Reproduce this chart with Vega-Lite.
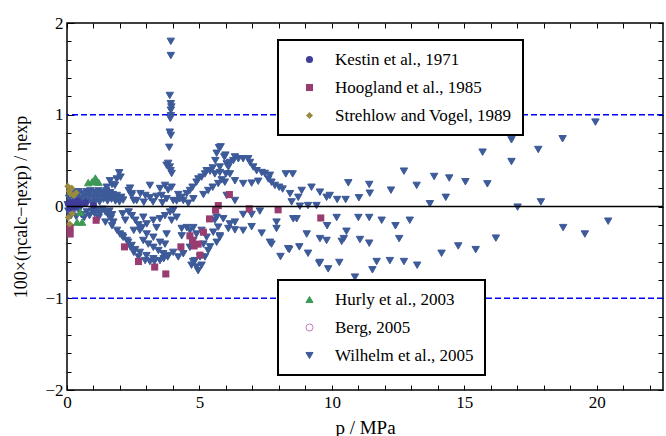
{
  "$schema": "https://vega.github.io/schema/vega-lite/v6.json",
  "width": 596,
  "height": 367,
  "autosize": {"type": "none"},
  "padding": {"left": 67, "top": 23, "right": 3, "bottom": 46},
  "config": {
    "view": {"stroke": "black", "strokeWidth": 1.5},
    "font": "Liberation Serif",
    "axis": {"domain": false, "grid": false, "tickColor": "black", "labelColor": "black", "titleColor": "black", "labelFont": "Liberation Serif", "titleFont": "Liberation Serif", "titleFontWeight": "normal", "labelFontSize": 17, "titleFontSize": 18, "labelFlush": false, "labelOverlap": false, "tickWidth": 1, "tickSize": 5, "offset": -5}
  },
  "datasets": {
    "levels": [{"level": 1}, {"level": -1}],
    "zero": [{"level": 0}],
    "g1": [
      {"series": "Kestin et al., 1971", "p": 0.05, "dev": 0.03},
      {"series": "Kestin et al., 1971", "p": 0.1, "dev": -0.02},
      {"series": "Kestin et al., 1971", "p": 0.2, "dev": 0.05},
      {"series": "Kestin et al., 1971", "p": 0.3, "dev": 0.0},
      {"series": "Kestin et al., 1971", "p": 0.4, "dev": 0.06},
      {"series": "Kestin et al., 1971", "p": 0.5, "dev": 0.02},
      {"series": "Kestin et al., 1971", "p": 0.7, "dev": 0.04},
      {"series": "Kestin et al., 1971", "p": 1.0, "dev": 0.01},
      {"series": "Hoogland et al., 1985", "p": 0.12, "dev": -0.23},
      {"series": "Hoogland et al., 1985", "p": 0.12, "dev": -0.3},
      {"series": "Hoogland et al., 1985", "p": 1.1, "dev": -0.15},
      {"series": "Hoogland et al., 1985", "p": 2.17, "dev": -0.44},
      {"series": "Hoogland et al., 1985", "p": 2.7, "dev": -0.6},
      {"series": "Hoogland et al., 1985", "p": 3.31, "dev": -0.66},
      {"series": "Hoogland et al., 1985", "p": 3.73, "dev": -0.735},
      {"series": "Hoogland et al., 1985", "p": 4.3, "dev": -0.44},
      {"series": "Hoogland et al., 1985", "p": 4.64, "dev": -0.32},
      {"series": "Hoogland et al., 1985", "p": 4.74, "dev": -0.37},
      {"series": "Hoogland et al., 1985", "p": 4.95, "dev": -0.41},
      {"series": "Hoogland et al., 1985", "p": 4.8, "dev": -0.43},
      {"series": "Hoogland et al., 1985", "p": 5.02, "dev": -0.53},
      {"series": "Hoogland et al., 1985", "p": 5.15, "dev": -0.28},
      {"series": "Hoogland et al., 1985", "p": 5.38, "dev": -0.135},
      {"series": "Hoogland et al., 1985", "p": 5.61, "dev": -0.04},
      {"series": "Hoogland et al., 1985", "p": 5.71, "dev": 0.01},
      {"series": "Hoogland et al., 1985", "p": 6.13, "dev": 0.13},
      {"series": "Hoogland et al., 1985", "p": 6.88, "dev": -0.025},
      {"series": "Hoogland et al., 1985", "p": 7.97, "dev": -0.036},
      {"series": "Hoogland et al., 1985", "p": 9.58, "dev": -0.125},
      {"series": "Strehlow and Vogel, 1989", "p": 0.03, "dev": 0.22},
      {"series": "Strehlow and Vogel, 1989", "p": 0.08, "dev": 0.17},
      {"series": "Strehlow and Vogel, 1989", "p": 0.12, "dev": 0.14},
      {"series": "Strehlow and Vogel, 1989", "p": 0.18, "dev": 0.2},
      {"series": "Strehlow and Vogel, 1989", "p": 0.25, "dev": 0.12},
      {"series": "Strehlow and Vogel, 1989", "p": 0.35, "dev": 0.15},
      {"series": "Strehlow and Vogel, 1989", "p": 0.05, "dev": -0.12},
      {"series": "Strehlow and Vogel, 1989", "p": 0.1, "dev": -0.19},
      {"series": "Strehlow and Vogel, 1989", "p": 0.2, "dev": -0.08}
    ],
    "g2": [
      {"series": "Wilhelm et al., 2005", "p": 0.03, "dev": 0.02},
      {"series": "Wilhelm et al., 2005", "p": 0.08, "dev": 0.09},
      {"series": "Wilhelm et al., 2005", "p": 0.12, "dev": 0.14},
      {"series": "Wilhelm et al., 2005", "p": 0.18, "dev": 0.04},
      {"series": "Wilhelm et al., 2005", "p": 0.22, "dev": 0.11},
      {"series": "Wilhelm et al., 2005", "p": 0.28, "dev": 0.15},
      {"series": "Wilhelm et al., 2005", "p": 0.33, "dev": 0.06},
      {"series": "Wilhelm et al., 2005", "p": 0.38, "dev": 0.12},
      {"series": "Wilhelm et al., 2005", "p": 0.43, "dev": 0.16},
      {"series": "Wilhelm et al., 2005", "p": 0.48, "dev": 0.03},
      {"series": "Wilhelm et al., 2005", "p": 0.53, "dev": 0.09},
      {"series": "Wilhelm et al., 2005", "p": 0.58, "dev": 0.14},
      {"series": "Wilhelm et al., 2005", "p": 0.63, "dev": 0.05},
      {"series": "Wilhelm et al., 2005", "p": 0.68, "dev": 0.11},
      {"series": "Wilhelm et al., 2005", "p": 0.73, "dev": 0.16},
      {"series": "Wilhelm et al., 2005", "p": 0.78, "dev": 0.07},
      {"series": "Wilhelm et al., 2005", "p": 0.83, "dev": 0.13},
      {"series": "Wilhelm et al., 2005", "p": 0.88, "dev": 0.17},
      {"series": "Wilhelm et al., 2005", "p": 0.93, "dev": 0.04},
      {"series": "Wilhelm et al., 2005", "p": 0.98, "dev": 0.1},
      {"series": "Wilhelm et al., 2005", "p": 1.03, "dev": 0.15},
      {"series": "Wilhelm et al., 2005", "p": 1.08, "dev": 0.06},
      {"series": "Wilhelm et al., 2005", "p": 1.13, "dev": 0.12},
      {"series": "Wilhelm et al., 2005", "p": 1.18, "dev": 0.17},
      {"series": "Wilhelm et al., 2005", "p": 1.23, "dev": 0.05},
      {"series": "Wilhelm et al., 2005", "p": 1.28, "dev": 0.1},
      {"series": "Wilhelm et al., 2005", "p": 1.33, "dev": 0.15},
      {"series": "Wilhelm et al., 2005", "p": 1.38, "dev": 0.08},
      {"series": "Wilhelm et al., 2005", "p": 1.43, "dev": 0.13},
      {"series": "Wilhelm et al., 2005", "p": 1.48, "dev": 0.17},
      {"series": "Wilhelm et al., 2005", "p": 1.53, "dev": 0.06},
      {"series": "Wilhelm et al., 2005", "p": 1.58, "dev": 0.11},
      {"series": "Wilhelm et al., 2005", "p": 1.63, "dev": 0.15},
      {"series": "Wilhelm et al., 2005", "p": 1.68, "dev": 0.08},
      {"series": "Wilhelm et al., 2005", "p": 1.73, "dev": 0.13},
      {"series": "Wilhelm et al., 2005", "p": 1.78, "dev": 0.1},
      {"series": "Wilhelm et al., 2005", "p": 1.83, "dev": 0.06},
      {"series": "Wilhelm et al., 2005", "p": 1.88, "dev": 0.12},
      {"series": "Wilhelm et al., 2005", "p": 1.93, "dev": 0.09},
      {"series": "Wilhelm et al., 2005", "p": 1.98, "dev": 0.05},
      {"series": "Wilhelm et al., 2005", "p": 2.05, "dev": 0.1},
      {"series": "Wilhelm et al., 2005", "p": 2.12, "dev": 0.07},
      {"series": "Wilhelm et al., 2005", "p": 1.5, "dev": 0.21},
      {"series": "Wilhelm et al., 2005", "p": 1.62, "dev": 0.28},
      {"series": "Wilhelm et al., 2005", "p": 1.7, "dev": 0.24},
      {"series": "Wilhelm et al., 2005", "p": 1.81, "dev": 0.23},
      {"series": "Wilhelm et al., 2005", "p": 1.88, "dev": 0.3},
      {"series": "Wilhelm et al., 2005", "p": 1.97, "dev": 0.367},
      {"series": "Wilhelm et al., 2005", "p": 2.02, "dev": 0.32},
      {"series": "Wilhelm et al., 2005", "p": 2.33, "dev": 0.174},
      {"series": "Wilhelm et al., 2005", "p": 2.45, "dev": 0.14},
      {"series": "Wilhelm et al., 2005", "p": 2.38, "dev": 0.2},
      {"series": "Wilhelm et al., 2005", "p": 2.63, "dev": 0.065},
      {"series": "Wilhelm et al., 2005", "p": 2.77, "dev": 0.14},
      {"series": "Wilhelm et al., 2005", "p": 2.96, "dev": 0.12},
      {"series": "Wilhelm et al., 2005", "p": 2.52, "dev": 0.065},
      {"series": "Wilhelm et al., 2005", "p": 2.9, "dev": 0.047},
      {"series": "Wilhelm et al., 2005", "p": 2.44, "dev": 0.12},
      {"series": "Wilhelm et al., 2005", "p": 3.13, "dev": 0.095},
      {"series": "Wilhelm et al., 2005", "p": 3.38, "dev": 0.11},
      {"series": "Wilhelm et al., 2005", "p": 3.57, "dev": 0.12},
      {"series": "Wilhelm et al., 2005", "p": 3.76, "dev": 0.084},
      {"series": "Wilhelm et al., 2005", "p": 4.01, "dev": 0.065},
      {"series": "Wilhelm et al., 2005", "p": 4.14, "dev": 0.06},
      {"series": "Wilhelm et al., 2005", "p": 4.39, "dev": 0.065},
      {"series": "Wilhelm et al., 2005", "p": 4.58, "dev": 0.036},
      {"series": "Wilhelm et al., 2005", "p": 4.77, "dev": 0.084},
      {"series": "Wilhelm et al., 2005", "p": 3.82, "dev": 0.18},
      {"series": "Wilhelm et al., 2005", "p": 3.95, "dev": 0.21},
      {"series": "Wilhelm et al., 2005", "p": 3.51, "dev": 0.196},
      {"series": "Wilhelm et al., 2005", "p": 3.13, "dev": 0.23},
      {"series": "Wilhelm et al., 2005", "p": 3.7, "dev": 0.23},
      {"series": "Wilhelm et al., 2005", "p": 4.26, "dev": 0.084},
      {"series": "Wilhelm et al., 2005", "p": 3.25, "dev": 0.05},
      {"series": "Wilhelm et al., 2005", "p": 3.6, "dev": 0.04},
      {"series": "Wilhelm et al., 2005", "p": 4.2, "dev": 0.13},
      {"series": "Wilhelm et al., 2005", "p": 3.92, "dev": 1.8},
      {"series": "Wilhelm et al., 2005", "p": 3.92, "dev": 1.645},
      {"series": "Wilhelm et al., 2005", "p": 3.88, "dev": 1.21},
      {"series": "Wilhelm et al., 2005", "p": 3.92, "dev": 1.12},
      {"series": "Wilhelm et al., 2005", "p": 3.94, "dev": 1.085},
      {"series": "Wilhelm et al., 2005", "p": 3.92, "dev": 1.05},
      {"series": "Wilhelm et al., 2005", "p": 3.92, "dev": 0.99},
      {"series": "Wilhelm et al., 2005", "p": 3.9, "dev": 0.96},
      {"series": "Wilhelm et al., 2005", "p": 3.88, "dev": 0.81},
      {"series": "Wilhelm et al., 2005", "p": 3.92, "dev": 0.775},
      {"series": "Wilhelm et al., 2005", "p": 3.86, "dev": 0.645},
      {"series": "Wilhelm et al., 2005", "p": 3.82, "dev": 0.47},
      {"series": "Wilhelm et al., 2005", "p": 3.76, "dev": 0.45},
      {"series": "Wilhelm et al., 2005", "p": 3.91, "dev": 0.39},
      {"series": "Wilhelm et al., 2005", "p": 3.95, "dev": 0.36},
      {"series": "Wilhelm et al., 2005", "p": 3.88, "dev": 0.43},
      {"series": "Wilhelm et al., 2005", "p": 4.33, "dev": 0.1},
      {"series": "Wilhelm et al., 2005", "p": 4.52, "dev": 0.14},
      {"series": "Wilhelm et al., 2005", "p": 4.64, "dev": 0.174},
      {"series": "Wilhelm et al., 2005", "p": 4.74, "dev": 0.21},
      {"series": "Wilhelm et al., 2005", "p": 4.89, "dev": 0.265},
      {"series": "Wilhelm et al., 2005", "p": 5.08, "dev": 0.32},
      {"series": "Wilhelm et al., 2005", "p": 5.21, "dev": 0.355},
      {"series": "Wilhelm et al., 2005", "p": 5.4, "dev": 0.385},
      {"series": "Wilhelm et al., 2005", "p": 5.58, "dev": 0.355},
      {"series": "Wilhelm et al., 2005", "p": 5.77, "dev": 0.43},
      {"series": "Wilhelm et al., 2005", "p": 5.65, "dev": 0.58},
      {"series": "Wilhelm et al., 2005", "p": 5.74, "dev": 0.64},
      {"series": "Wilhelm et al., 2005", "p": 5.94, "dev": 0.54},
      {"series": "Wilhelm et al., 2005", "p": 5.8, "dev": 0.65},
      {"series": "Wilhelm et al., 2005", "p": 5.98, "dev": 0.56},
      {"series": "Wilhelm et al., 2005", "p": 6.34, "dev": 0.54},
      {"series": "Wilhelm et al., 2005", "p": 6.47, "dev": 0.52},
      {"series": "Wilhelm et al., 2005", "p": 6.65, "dev": 0.52},
      {"series": "Wilhelm et al., 2005", "p": 6.84, "dev": 0.52},
      {"series": "Wilhelm et al., 2005", "p": 6.91, "dev": 0.48},
      {"series": "Wilhelm et al., 2005", "p": 6.03, "dev": 0.465},
      {"series": "Wilhelm et al., 2005", "p": 6.15, "dev": 0.48},
      {"series": "Wilhelm et al., 2005", "p": 6.28, "dev": 0.5},
      {"series": "Wilhelm et al., 2005", "p": 6.09, "dev": 0.43},
      {"series": "Wilhelm et al., 2005", "p": 7.03, "dev": 0.43},
      {"series": "Wilhelm et al., 2005", "p": 7.16, "dev": 0.39},
      {"series": "Wilhelm et al., 2005", "p": 7.35, "dev": 0.37},
      {"series": "Wilhelm et al., 2005", "p": 7.47, "dev": 0.36},
      {"series": "Wilhelm et al., 2005", "p": 7.66, "dev": 0.34},
      {"series": "Wilhelm et al., 2005", "p": 7.6, "dev": 0.3},
      {"series": "Wilhelm et al., 2005", "p": 7.72, "dev": 0.265},
      {"series": "Wilhelm et al., 2005", "p": 7.85, "dev": 0.23},
      {"series": "Wilhelm et al., 2005", "p": 8.01, "dev": 0.21},
      {"series": "Wilhelm et al., 2005", "p": 8.14, "dev": 0.19},
      {"series": "Wilhelm et al., 2005", "p": 8.26, "dev": 0.355},
      {"series": "Wilhelm et al., 2005", "p": 8.52, "dev": 0.355},
      {"series": "Wilhelm et al., 2005", "p": 8.42, "dev": 0.14},
      {"series": "Wilhelm et al., 2005", "p": 8.48, "dev": 0.05},
      {"series": "Wilhelm et al., 2005", "p": 8.73, "dev": 0.1},
      {"series": "Wilhelm et al., 2005", "p": 8.86, "dev": 0.175},
      {"series": "Wilhelm et al., 2005", "p": 9.23, "dev": 0.21},
      {"series": "Wilhelm et al., 2005", "p": 9.55, "dev": 0.156},
      {"series": "Wilhelm et al., 2005", "p": 9.8, "dev": 0.1},
      {"series": "Wilhelm et al., 2005", "p": 8.79, "dev": 0.003},
      {"series": "Wilhelm et al., 2005", "p": 9.1, "dev": 0.01},
      {"series": "Wilhelm et al., 2005", "p": 9.42, "dev": 0.01},
      {"series": "Wilhelm et al., 2005", "p": 4.96, "dev": 0.3},
      {"series": "Wilhelm et al., 2005", "p": 5.27, "dev": 0.39},
      {"series": "Wilhelm et al., 2005", "p": 5.5, "dev": 0.42},
      {"series": "Wilhelm et al., 2005", "p": 5.6, "dev": 0.5},
      {"series": "Wilhelm et al., 2005", "p": 5.15, "dev": 0.13},
      {"series": "Wilhelm et al., 2005", "p": 5.33, "dev": 0.174},
      {"series": "Wilhelm et al., 2005", "p": 5.5, "dev": 0.21},
      {"series": "Wilhelm et al., 2005", "p": 5.71, "dev": 0.25},
      {"series": "Wilhelm et al., 2005", "p": 5.84, "dev": 0.29},
      {"series": "Wilhelm et al., 2005", "p": 6.0, "dev": 0.355},
      {"series": "Wilhelm et al., 2005", "p": 5.77, "dev": 0.37},
      {"series": "Wilhelm et al., 2005", "p": 6.15, "dev": 0.355},
      {"series": "Wilhelm et al., 2005", "p": 5.96, "dev": 0.265},
      {"series": "Wilhelm et al., 2005", "p": 6.34, "dev": 0.28},
      {"series": "Wilhelm et al., 2005", "p": 6.65, "dev": 0.25},
      {"series": "Wilhelm et al., 2005", "p": 6.97, "dev": 0.255},
      {"series": "Wilhelm et al., 2005", "p": 7.22, "dev": 0.275},
      {"series": "Wilhelm et al., 2005", "p": 6.03, "dev": 0.12},
      {"series": "Wilhelm et al., 2005", "p": 6.34, "dev": 0.065},
      {"series": "Wilhelm et al., 2005", "p": 0.05, "dev": -0.05},
      {"series": "Wilhelm et al., 2005", "p": 0.15, "dev": -0.1},
      {"series": "Wilhelm et al., 2005", "p": 0.25, "dev": -0.06},
      {"series": "Wilhelm et al., 2005", "p": 0.35, "dev": -0.11},
      {"series": "Wilhelm et al., 2005", "p": 0.45, "dev": -0.04},
      {"series": "Wilhelm et al., 2005", "p": 0.55, "dev": -0.09},
      {"series": "Wilhelm et al., 2005", "p": 0.65, "dev": -0.12},
      {"series": "Wilhelm et al., 2005", "p": 0.75, "dev": -0.06},
      {"series": "Wilhelm et al., 2005", "p": 0.85, "dev": -0.1},
      {"series": "Wilhelm et al., 2005", "p": 0.95, "dev": -0.05},
      {"series": "Wilhelm et al., 2005", "p": 1.05, "dev": -0.08},
      {"series": "Wilhelm et al., 2005", "p": 1.15, "dev": -0.04},
      {"series": "Wilhelm et al., 2005", "p": 1.25, "dev": -0.07},
      {"series": "Wilhelm et al., 2005", "p": 1.35, "dev": -0.03},
      {"series": "Wilhelm et al., 2005", "p": 1.45, "dev": -0.06},
      {"series": "Wilhelm et al., 2005", "p": 1.55, "dev": -0.09},
      {"series": "Wilhelm et al., 2005", "p": 1.65, "dev": -0.13},
      {"series": "Wilhelm et al., 2005", "p": 1.75, "dev": -0.17},
      {"series": "Wilhelm et al., 2005", "p": 1.6, "dev": -0.05},
      {"series": "Wilhelm et al., 2005", "p": 1.7, "dev": -0.09},
      {"series": "Wilhelm et al., 2005", "p": 1.2, "dev": -0.117},
      {"series": "Wilhelm et al., 2005", "p": 1.45, "dev": -0.17},
      {"series": "Wilhelm et al., 2005", "p": 1.7, "dev": -0.21},
      {"series": "Wilhelm et al., 2005", "p": 1.89, "dev": -0.26},
      {"series": "Wilhelm et al., 2005", "p": 2.08, "dev": -0.32},
      {"series": "Wilhelm et al., 2005", "p": 2.26, "dev": -0.37},
      {"series": "Wilhelm et al., 2005", "p": 2.39, "dev": -0.44},
      {"series": "Wilhelm et al., 2005", "p": 2.52, "dev": -0.5},
      {"series": "Wilhelm et al., 2005", "p": 2.7, "dev": -0.55},
      {"series": "Wilhelm et al., 2005", "p": 2.95, "dev": -0.59},
      {"series": "Wilhelm et al., 2005", "p": 3.13, "dev": -0.6},
      {"series": "Wilhelm et al., 2005", "p": 3.3, "dev": -0.6},
      {"series": "Wilhelm et al., 2005", "p": 3.51, "dev": -0.59},
      {"series": "Wilhelm et al., 2005", "p": 3.65, "dev": -0.57},
      {"series": "Wilhelm et al., 2005", "p": 3.8, "dev": -0.55},
      {"series": "Wilhelm et al., 2005", "p": 4.01, "dev": -0.5},
      {"series": "Wilhelm et al., 2005", "p": 2.0, "dev": -0.3},
      {"series": "Wilhelm et al., 2005", "p": 2.12, "dev": -0.335},
      {"series": "Wilhelm et al., 2005", "p": 2.31, "dev": -0.39},
      {"series": "Wilhelm et al., 2005", "p": 2.44, "dev": -0.425},
      {"series": "Wilhelm et al., 2005", "p": 2.57, "dev": -0.47},
      {"series": "Wilhelm et al., 2005", "p": 2.75, "dev": -0.5},
      {"series": "Wilhelm et al., 2005", "p": 3.0, "dev": -0.535},
      {"series": "Wilhelm et al., 2005", "p": 3.26, "dev": -0.57},
      {"series": "Wilhelm et al., 2005", "p": 2.33, "dev": -0.06},
      {"series": "Wilhelm et al., 2005", "p": 2.45, "dev": -0.1},
      {"series": "Wilhelm et al., 2005", "p": 2.58, "dev": -0.15},
      {"series": "Wilhelm et al., 2005", "p": 2.7, "dev": -0.2},
      {"series": "Wilhelm et al., 2005", "p": 2.83, "dev": -0.23},
      {"series": "Wilhelm et al., 2005", "p": 2.52, "dev": -0.26},
      {"series": "Wilhelm et al., 2005", "p": 2.75, "dev": -0.26},
      {"series": "Wilhelm et al., 2005", "p": 2.88, "dev": -0.117},
      {"series": "Wilhelm et al., 2005", "p": 3.01, "dev": -0.19},
      {"series": "Wilhelm et al., 2005", "p": 3.26, "dev": -0.15},
      {"series": "Wilhelm et al., 2005", "p": 3.51, "dev": -0.134},
      {"series": "Wilhelm et al., 2005", "p": 3.7, "dev": -0.1},
      {"series": "Wilhelm et al., 2005", "p": 3.89, "dev": -0.06},
      {"series": "Wilhelm et al., 2005", "p": 4.01, "dev": -0.044},
      {"series": "Wilhelm et al., 2005", "p": 3.95, "dev": -0.15},
      {"series": "Wilhelm et al., 2005", "p": 4.14, "dev": -0.117},
      {"series": "Wilhelm et al., 2005", "p": 2.2, "dev": -0.15},
      {"series": "Wilhelm et al., 2005", "p": 2.1, "dev": -0.08},
      {"series": "Wilhelm et al., 2005", "p": 2.88, "dev": -0.37},
      {"series": "Wilhelm et al., 2005", "p": 3.07, "dev": -0.41},
      {"series": "Wilhelm et al., 2005", "p": 3.26, "dev": -0.445},
      {"series": "Wilhelm et al., 2005", "p": 3.45, "dev": -0.48},
      {"series": "Wilhelm et al., 2005", "p": 3.63, "dev": -0.515},
      {"series": "Wilhelm et al., 2005", "p": 3.82, "dev": -0.535},
      {"series": "Wilhelm et al., 2005", "p": 4.2, "dev": -0.55},
      {"series": "Wilhelm et al., 2005", "p": 4.39, "dev": -0.515},
      {"series": "Wilhelm et al., 2005", "p": 4.64, "dev": -0.445},
      {"series": "Wilhelm et al., 2005", "p": 4.77, "dev": -0.37},
      {"series": "Wilhelm et al., 2005", "p": 3.01, "dev": -0.3},
      {"series": "Wilhelm et al., 2005", "p": 3.26, "dev": -0.335},
      {"series": "Wilhelm et al., 2005", "p": 3.51, "dev": -0.39},
      {"series": "Wilhelm et al., 2005", "p": 3.7, "dev": -0.41},
      {"series": "Wilhelm et al., 2005", "p": 3.38, "dev": -0.23},
      {"series": "Wilhelm et al., 2005", "p": 3.76, "dev": -0.3},
      {"series": "Wilhelm et al., 2005", "p": 4.33, "dev": -0.32},
      {"series": "Wilhelm et al., 2005", "p": 4.52, "dev": -0.23},
      {"series": "Wilhelm et al., 2005", "p": 4.33, "dev": -0.24},
      {"series": "Wilhelm et al., 2005", "p": 4.64, "dev": -0.26},
      {"series": "Wilhelm et al., 2005", "p": 4.77, "dev": -0.23},
      {"series": "Wilhelm et al., 2005", "p": 4.89, "dev": -0.3},
      {"series": "Wilhelm et al., 2005", "p": 5.08, "dev": -0.26},
      {"series": "Wilhelm et al., 2005", "p": 5.27, "dev": -0.335},
      {"series": "Wilhelm et al., 2005", "p": 5.52, "dev": -0.28},
      {"series": "Wilhelm et al., 2005", "p": 5.77, "dev": -0.335},
      {"series": "Wilhelm et al., 2005", "p": 5.71, "dev": -0.225},
      {"series": "Wilhelm et al., 2005", "p": 5.58, "dev": -0.15},
      {"series": "Wilhelm et al., 2005", "p": 4.83, "dev": -0.59},
      {"series": "Wilhelm et al., 2005", "p": 4.89, "dev": -0.66},
      {"series": "Wilhelm et al., 2005", "p": 4.95, "dev": -0.7},
      {"series": "Wilhelm et al., 2005", "p": 5.08, "dev": -0.64},
      {"series": "Wilhelm et al., 2005", "p": 5.21, "dev": -0.55},
      {"series": "Wilhelm et al., 2005", "p": 5.33, "dev": -0.48},
      {"series": "Wilhelm et al., 2005", "p": 4.7, "dev": -0.64},
      {"series": "Wilhelm et al., 2005", "p": 5.02, "dev": -0.55},
      {"series": "Wilhelm et al., 2005", "p": 5.15, "dev": -0.41},
      {"series": "Wilhelm et al., 2005", "p": 5.4, "dev": -0.44},
      {"series": "Wilhelm et al., 2005", "p": 4.76, "dev": -0.6},
      {"series": "Wilhelm et al., 2005", "p": 5.65, "dev": -0.117},
      {"series": "Wilhelm et al., 2005", "p": 5.9, "dev": -0.134},
      {"series": "Wilhelm et al., 2005", "p": 6.15, "dev": -0.19},
      {"series": "Wilhelm et al., 2005", "p": 6.34, "dev": -0.17},
      {"series": "Wilhelm et al., 2005", "p": 6.65, "dev": -0.087},
      {"series": "Wilhelm et al., 2005", "p": 6.97, "dev": -0.087},
      {"series": "Wilhelm et al., 2005", "p": 7.28, "dev": -0.05},
      {"series": "Wilhelm et al., 2005", "p": 7.91, "dev": -0.17},
      {"series": "Wilhelm et al., 2005", "p": 8.54, "dev": -0.134},
      {"series": "Wilhelm et al., 2005", "p": 8.67, "dev": -0.134},
      {"series": "Wilhelm et al., 2005", "p": 6.09, "dev": -0.24},
      {"series": "Wilhelm et al., 2005", "p": 6.34, "dev": -0.255},
      {"series": "Wilhelm et al., 2005", "p": 6.65, "dev": -0.26},
      {"series": "Wilhelm et al., 2005", "p": 6.97, "dev": -0.22},
      {"series": "Wilhelm et al., 2005", "p": 7.35, "dev": -0.29},
      {"series": "Wilhelm et al., 2005", "p": 7.91, "dev": -0.24},
      {"series": "Wilhelm et al., 2005", "p": 7.72, "dev": -0.41},
      {"series": "Wilhelm et al., 2005", "p": 8.06, "dev": -0.545},
      {"series": "Wilhelm et al., 2005", "p": 8.39, "dev": -0.47},
      {"series": "Wilhelm et al., 2005", "p": 8.77, "dev": -0.44},
      {"series": "Wilhelm et al., 2005", "p": 9.1, "dev": -0.51},
      {"series": "Wilhelm et al., 2005", "p": 9.55, "dev": -0.35},
      {"series": "Wilhelm et al., 2005", "p": 9.52, "dev": -0.62},
      {"series": "Wilhelm et al., 2005", "p": 9.86, "dev": -0.68},
      {"series": "Wilhelm et al., 2005", "p": 5.77, "dev": -0.32},
      {"series": "Wilhelm et al., 2005", "p": 5.65, "dev": -0.39},
      {"series": "Wilhelm et al., 2005", "p": 9.05, "dev": -0.3},
      {"series": "Wilhelm et al., 2005", "p": 9.82, "dev": -0.21},
      {"series": "Wilhelm et al., 2005", "p": 9.8, "dev": -0.37},
      {"series": "Wilhelm et al., 2005", "p": 7.66, "dev": -0.39},
      {"series": "Wilhelm et al., 2005", "p": 8.35, "dev": -0.46},
      {"series": "Wilhelm et al., 2005", "p": 9.92, "dev": 0.12},
      {"series": "Wilhelm et al., 2005", "p": 10.2, "dev": 0.076},
      {"series": "Wilhelm et al., 2005", "p": 10.52, "dev": 0.076},
      {"series": "Wilhelm et al., 2005", "p": 11.02, "dev": 0.095},
      {"series": "Wilhelm et al., 2005", "p": 10.62, "dev": 0.258},
      {"series": "Wilhelm et al., 2005", "p": 11.41, "dev": 0.24},
      {"series": "Wilhelm et al., 2005", "p": 11.43, "dev": 0.145},
      {"series": "Wilhelm et al., 2005", "p": 12.23, "dev": 0.178},
      {"series": "Wilhelm et al., 2005", "p": 12.72, "dev": 0.385},
      {"series": "Wilhelm et al., 2005", "p": 13.2, "dev": 0.23},
      {"series": "Wilhelm et al., 2005", "p": 13.86, "dev": 0.327},
      {"series": "Wilhelm et al., 2005", "p": 14.43, "dev": 0.31},
      {"series": "Wilhelm et al., 2005", "p": 15.04, "dev": 0.27},
      {"series": "Wilhelm et al., 2005", "p": 15.87, "dev": 0.247},
      {"series": "Wilhelm et al., 2005", "p": 14.3, "dev": 0.1},
      {"series": "Wilhelm et al., 2005", "p": 13.7, "dev": 0.03},
      {"series": "Wilhelm et al., 2005", "p": 15.69, "dev": 0.592},
      {"series": "Wilhelm et al., 2005", "p": 16.78, "dev": 0.727},
      {"series": "Wilhelm et al., 2005", "p": 16.78, "dev": 0.49},
      {"series": "Wilhelm et al., 2005", "p": 17.79, "dev": 0.621},
      {"series": "Wilhelm et al., 2005", "p": 18.71, "dev": 0.738},
      {"series": "Wilhelm et al., 2005", "p": 19.95, "dev": 0.92},
      {"series": "Wilhelm et al., 2005", "p": 17.01, "dev": -0.007},
      {"series": "Wilhelm et al., 2005", "p": 17.89, "dev": 0.05},
      {"series": "Wilhelm et al., 2005", "p": 10.18, "dev": -0.12},
      {"series": "Wilhelm et al., 2005", "p": 11.0, "dev": -0.12},
      {"series": "Wilhelm et al., 2005", "p": 11.41, "dev": -0.12},
      {"series": "Wilhelm et al., 2005", "p": 11.88, "dev": -0.15},
      {"series": "Wilhelm et al., 2005", "p": 12.94, "dev": -0.15},
      {"series": "Wilhelm et al., 2005", "p": 12.4, "dev": -0.21},
      {"series": "Wilhelm et al., 2005", "p": 10.55, "dev": -0.27},
      {"series": "Wilhelm et al., 2005", "p": 10.37, "dev": -0.38},
      {"series": "Wilhelm et al., 2005", "p": 10.45, "dev": -0.35},
      {"series": "Wilhelm et al., 2005", "p": 11.06, "dev": -0.36},
      {"series": "Wilhelm et al., 2005", "p": 11.41, "dev": -0.4},
      {"series": "Wilhelm et al., 2005", "p": 12.54, "dev": -0.35},
      {"series": "Wilhelm et al., 2005", "p": 10.28, "dev": -0.61},
      {"series": "Wilhelm et al., 2005", "p": 11.69, "dev": -0.6},
      {"series": "Wilhelm et al., 2005", "p": 11.53, "dev": -0.69},
      {"series": "Wilhelm et al., 2005", "p": 12.19, "dev": -0.59},
      {"series": "Wilhelm et al., 2005", "p": 12.72, "dev": -0.6},
      {"series": "Wilhelm et al., 2005", "p": 13.22, "dev": -0.64},
      {"series": "Wilhelm et al., 2005", "p": 14.14, "dev": -0.51},
      {"series": "Wilhelm et al., 2005", "p": 14.77, "dev": -0.43},
      {"series": "Wilhelm et al., 2005", "p": 15.43, "dev": -0.47},
      {"series": "Wilhelm et al., 2005", "p": 16.19, "dev": -0.345},
      {"series": "Wilhelm et al., 2005", "p": 18.73, "dev": -0.23},
      {"series": "Wilhelm et al., 2005", "p": 19.55, "dev": -0.3},
      {"series": "Wilhelm et al., 2005", "p": 20.43, "dev": -0.16},
      {"series": "Wilhelm et al., 2005", "p": 10.87, "dev": -0.77},
      {"series": "Wilhelm et al., 2005", "p": 9.55, "dev": -0.61},
      {"series": "Hurly et al., 2003", "p": 0.8, "dev": 0.26},
      {"series": "Hurly et al., 2003", "p": 0.95, "dev": 0.27},
      {"series": "Hurly et al., 2003", "p": 1.07, "dev": 0.31},
      {"series": "Hurly et al., 2003", "p": 1.19, "dev": 0.265},
      {"series": "Hurly et al., 2003", "p": 1.12, "dev": 0.28},
      {"series": "Hurly et al., 2003", "p": 0.5, "dev": -0.06},
      {"series": "Hurly et al., 2003", "p": 0.38, "dev": -0.17},
      {"series": "Hurly et al., 2003", "p": 0.57, "dev": -0.17},
      {"series": "Hurly et al., 2003", "p": 0.3, "dev": 0.05},
      {"series": "Berg, 2005", "p": 0.2, "dev": -0.04},
      {"series": "Berg, 2005", "p": 0.1, "dev": 0.01},
      {"series": "Berg, 2005", "p": 0.3, "dev": 0.03}
    ]
  },
  "layer": [
    {
      "data": {"name": "levels"},
      "mark": {"type": "rule", "color": "#0000ff", "strokeDash": [6, 3], "strokeWidth": 1.6},
      "encoding": {
        "y": {"field": "level", "type": "quantitative", "axis": null, "scale": {"domain": [-2, 2], "nice": false, "zero": false}}
      }
    },
    {
      "data": {"name": "g2"},
      "mark": {"type": "point", "size": 55, "strokeWidth": 1, "opacity": 1},
      "encoding": {
        "x": {"field": "p", "type": "quantitative", "scale": {"domain": [0, 22.5], "nice": false, "zero": false},
          "axis": {"orient": "bottom", "values": [0,1,2,3,4,5,6,7,8,9,10,11,12,13,14,15,16,17,18,19,20,21,22], "format": "d",
            "labelExpr": "datum.value % 5 === 0 ? datum.label : ''", "labelOverlap": false,
            "labelPadding": 4, "title": "p / MPa", "titleFontSize": 19, "titlePadding": 8}},
        "y": {"field": "dev", "type": "quantitative", "scale": {"domain": [-2, 2], "nice": false, "zero": false},
          "axis": {"orient": "left", "values": [-2, -1, 0, 1, 2], "format": "d", "labelOverlap": false, "labelBaseline": "middle",
            "tickSize": 7, "offset": -7,
            "labelPadding": 4, "title": "100×(ηcalc−ηexp) / ηexp", "titlePadding": 14}},
        "shape": {"field": "series", "type": "nominal",
          "scale": {"domain": ["Hurly et al., 2003", "Berg, 2005", "Wilhelm et al., 2005"], "range": ["triangle-up", "circle", "triangle-down"]},
          "legend": {"orient": "none", "legendX": 211, "legendY": 257, "title": null, "padding": 11, "rowPadding": 10, "labelFontSize": 17, "labelFont": "Liberation Serif", "labelColor": "black", "labelLimit": 400, "symbolSize": 50, "symbolOffset": 12, "labelOffset": 17, "strokeColor": "black", "fillColor": "white", "symbolOpacity": 1, "symbolStrokeWidth": 1,
            "labelExpr": "datum.label + '\u00a0\u00a0\u00a0\u00a0\u00a0\u00a0\u00a0\u00a0\u00a0\u00a0\u00a0\u00a0\u00a0\u00a0\u00a0\u00a0\u00a0'",
            "encode": {"legend": {"update": {"stroke": {"value": "black"}, "strokeWidth": {"value": 2}, "fill": {"value": "white"}}}}}},
        "fill": {"field": "series", "type": "nominal",
          "scale": {"domain": ["Hurly et al., 2003", "Berg, 2005", "Wilhelm et al., 2005"], "range": ["#3d9956", "transparent", "#3d5a99"]},
          "legend": {"orient": "none", "legendX": 211, "legendY": 257, "title": null, "padding": 11, "rowPadding": 10, "labelFontSize": 17, "labelFont": "Liberation Serif", "labelColor": "black", "labelLimit": 400, "symbolSize": 50, "symbolOffset": 12, "labelOffset": 17, "strokeColor": "black", "fillColor": "white", "symbolOpacity": 1, "symbolStrokeWidth": 1,
            "labelExpr": "datum.label + '\u00a0\u00a0\u00a0\u00a0\u00a0\u00a0\u00a0\u00a0\u00a0\u00a0\u00a0\u00a0\u00a0\u00a0\u00a0\u00a0\u00a0'",
            "encode": {"legend": {"update": {"stroke": {"value": "black"}, "strokeWidth": {"value": 2}, "fill": {"value": "white"}}}}}},
        "stroke": {"field": "series", "type": "nominal",
          "scale": {"domain": ["Hurly et al., 2003", "Berg, 2005", "Wilhelm et al., 2005"], "range": ["#3d9956", "#c47cc0", "#3d5a99"]},
          "legend": {"orient": "none", "legendX": 211, "legendY": 257, "title": null, "padding": 11, "rowPadding": 10, "labelFontSize": 17, "labelFont": "Liberation Serif", "labelColor": "black", "labelLimit": 400, "symbolSize": 50, "symbolOffset": 12, "labelOffset": 17, "strokeColor": "black", "fillColor": "white", "symbolOpacity": 1, "symbolStrokeWidth": 1,
            "labelExpr": "datum.label + '\u00a0\u00a0\u00a0\u00a0\u00a0\u00a0\u00a0\u00a0\u00a0\u00a0\u00a0\u00a0\u00a0\u00a0\u00a0\u00a0\u00a0'",
            "encode": {"legend": {"update": {"stroke": {"value": "black"}, "strokeWidth": {"value": 2}, "fill": {"value": "white"}}}}}}
      }
    },
    {
      "data": {"name": "g1"},
      "mark": {"type": "point", "size": 50, "filled": true, "opacity": 1},
      "encoding": {
        "x": {"field": "p", "type": "quantitative", "scale": {"domain": [0, 22.5], "nice": false, "zero": false},
          "axis": {"orient": "top", "values": [0,1,2,3,4,5,6,7,8,9,10,11,12,13,14,15,16,17,18,19,20,21,22], "labels": false, "title": null}},
        "y": {"field": "dev", "type": "quantitative", "scale": {"domain": [-2, 2], "nice": false, "zero": false},
          "axis": {"orient": "right", "values": [-2,-1.8,-1.6,-1.4,-1.2,-1,-0.8,-0.6,-0.4,-0.2,0,0.2,0.4,0.6,0.8,1,1.2,1.4,1.6,1.8,2], "labels": false, "title": null}},
        "shape": {"field": "series", "type": "nominal",
          "scale": {"domain": ["Kestin et al., 1971", "Hoogland et al., 1985", "Strehlow and Vogel, 1989"], "range": ["circle", "square", "diamond"]},
          "legend": {"orient": "none", "legendX": 211, "legendY": 17, "title": null, "padding": 11, "rowPadding": 10, "labelFontSize": 17, "labelFont": "Liberation Serif", "labelColor": "black", "labelLimit": 400, "symbolSize": 50, "symbolOffset": 12, "labelOffset": 17, "strokeColor": "black", "fillColor": "white", "symbolOpacity": 1, "symbolStrokeWidth": 0,
            "encode": {"legend": {"update": {"stroke": {"value": "black"}, "strokeWidth": {"value": 2}, "fill": {"value": "white"}}}}}},
        "color": {"field": "series", "type": "nominal",
          "scale": {"domain": ["Kestin et al., 1971", "Hoogland et al., 1985", "Strehlow and Vogel, 1989"], "range": ["#3f3d99", "#993d71", "#998b3d"]},
          "legend": {"orient": "none", "legendX": 211, "legendY": 17, "title": null, "padding": 11, "rowPadding": 10, "labelFontSize": 17, "labelFont": "Liberation Serif", "labelColor": "black", "labelLimit": 400, "symbolSize": 50, "symbolOffset": 12, "labelOffset": 17, "strokeColor": "black", "fillColor": "white", "symbolOpacity": 1, "symbolStrokeWidth": 0,
            "encode": {"legend": {"update": {"stroke": {"value": "black"}, "strokeWidth": {"value": 2}, "fill": {"value": "white"}}}}}}
      }
    },
    {
      "data": {"name": "zero"},
      "mark": {"type": "rule", "color": "black", "strokeWidth": 1.5},
      "encoding": {
        "y": {"field": "level", "type": "quantitative", "scale": {"domain": [-2, 2], "nice": false, "zero": false},
          "axis": {"orient": "left", "values": [-1.8,-1.6,-1.4,-1.2,-0.8,-0.6,-0.4,-0.2,0.2,0.4,0.6,0.8,1.2,1.4,1.6,1.8], "labels": false, "title": null, "tickSize": 4, "offset": -4}}
      }
    }
  ],
  "resolve": {
    "scale": {"shape": "independent", "color": "independent", "fill": "independent", "stroke": "independent"},
    "legend": {"shape": "independent", "color": "independent", "fill": "independent", "stroke": "independent"},
    "axis": {"x": "independent", "y": "independent"}
  }
}
